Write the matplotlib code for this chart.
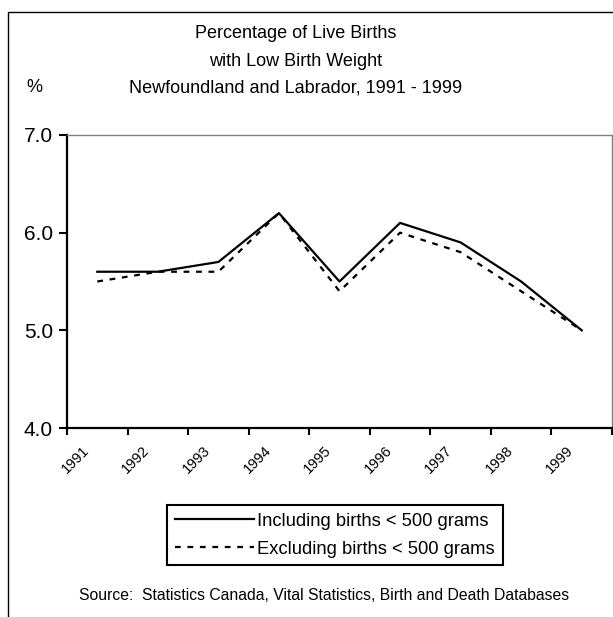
import matplotlib.pyplot as plt
from matplotlib.patches import Rectangle

plt.rcParams['font.family'] = ['Liberation Sans', 'DejaVu Sans']

years = ['1991', '1992', '1993', '1994', '1995', '1996', '1997', '1998', '1999']
including = [5.6, 5.6, 5.7, 6.2, 5.5, 6.1, 5.9, 5.5, 5.0]
excluding = [5.5, 5.6, 5.6, 6.2, 5.4, 6.0, 5.8, 5.4, 5.0]
y_ticks = [4.0, 5.0, 6.0, 7.0]

W, H = 613, 617
fig = plt.figure(figsize=(W / 100, H / 100), dpi=100)

# outer frame (only top and left visible, rest runs off the canvas)
fig.add_artist(Rectangle((8 / W, -0.1), 1.2, 1 - 12 / H + 0.1, transform=fig.transFigure,
                         fill=False, edgecolor='black', linewidth=1.0))

ax = fig.add_axes([67 / W, 1 - 428 / H, 545 / W, 293 / H])

xs = [i + 0.5 for i in range(len(years))]
ax.plot(xs, including, color='black', linewidth=1.6, label='Including births < 500 grams')
ax.plot(xs, excluding, color='black', linewidth=1.6, linestyle=(0, (2.6, 3.0)),
        label='Excluding births < 500 grams')

ax.set_xlim(0, len(years))
ax.set_ylim(4.0, 7.0)
ax.set_yticks(y_ticks)
ax.set_yticklabels([f'{v:.1f}' for v in y_ticks], fontsize=15)
ax.set_xticks(range(len(years) + 1))
ax.set_xticklabels([])
ax.tick_params(axis='x', direction='out', length=5, width=1.5)
ax.tick_params(axis='y', direction='out', length=6, width=1.5, pad=4)

# year labels, rotated, ending just left of each category centre
for x, yr in zip(xs, years):
    ax.annotate(yr, xy=(x, 0), xycoords=('data', 'axes fraction'),
                xytext=(-11, -11), textcoords='offset points',
                rotation=45, ha='right', va='top', rotation_mode='anchor', fontsize=10.5)

for s in ['left', 'bottom']:
    ax.spines[s].set_linewidth(1.6)
for s in ['top', 'right']:
    ax.spines[s].set_color('#808080')
    ax.spines[s].set_linewidth(1.0)

fig.text(296 / W, 1 - 34 / H, 'Percentage of Live Births', ha='center', va='center', fontsize=13)
fig.text(296 / W, 1 - 61 / H, 'with Low Birth Weight', ha='center', va='center', fontsize=13)
fig.text(296 / W, 1 - 88 / H, 'Newfoundland and Labrador, 1991 - 1999', ha='center', va='center', fontsize=13)
fig.text(34 / W, 1 - 88 / H, '%', ha='center', va='center', fontsize=13)

leg = ax.legend(loc='upper left', bbox_to_anchor=(167 / W, 1 - 505 / H), bbox_transform=fig.transFigure,
                fontsize=13.2, handlelength=4.3, handletextpad=0.2, borderaxespad=0, borderpad=0.42,
                labelspacing=0.6, fancybox=False, framealpha=1)
leg.get_frame().set_edgecolor('black')
leg.get_frame().set_linewidth(1.5)

fig.text(324 / W, 1 - 596 / H, 'Source:  Statistics Canada, Vital Statistics, Birth and Death Databases',
         ha='center', va='center', fontsize=11.3)

fig.savefig('out.png', dpi=100)
